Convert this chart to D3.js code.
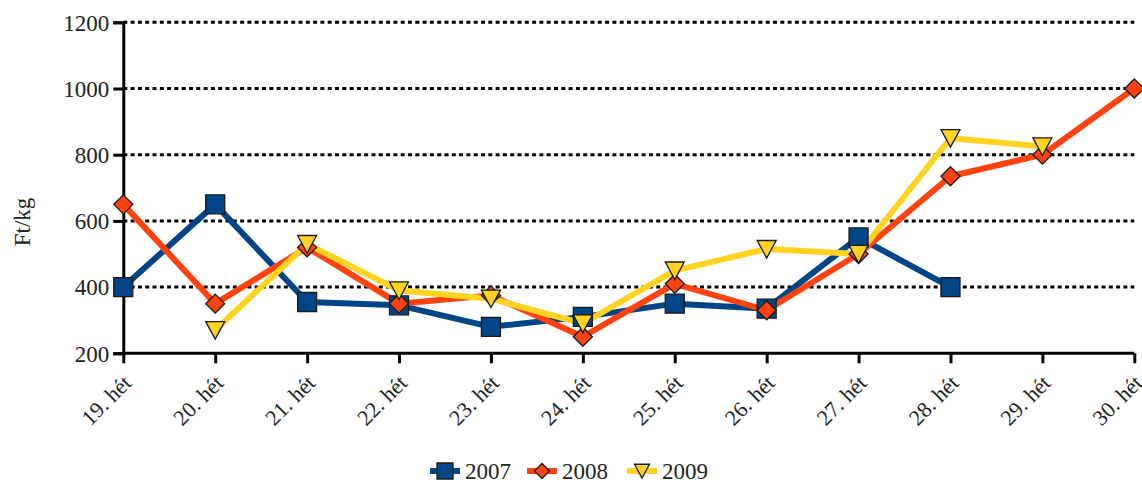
<!DOCTYPE html>
<html><head><meta charset="utf-8">
<script src="https://cdn.jsdelivr.net/npm/d3@7"></script>
<style>body{margin:0;background:#fff}svg{display:block}</style>
</head><body><svg id="c" width="1142" height="482"></svg>
<script>
const categories = ["19. hét","20. hét","21. hét","22. hét","23. hét","24. hét","25. hét","26. hét","27. hét","28. hét","29. hét","30. hét"];
const s2007 = [400,650,355,345,280,310,350,335,550,400,null,null];
const s2008 = [650,350,520,350,375,250,410,330,500,735,800,1000];
const s2009 = [null,270,530,390,365,290,450,515,500,850,825,null];
const yTicks = [200,400,600,800,1000,1200];
const seriesNames = ["2007","2008","2009"];
const colors = ["#004586","#ff420e","#ffd320"];

const FONT = "'Liberation Serif','Times New Roman',serif";
const svg = d3.select("#c");
const L=123.3, R=1134.3, T=22.3, B=353.3;
const x = d3.scalePoint().domain(categories).range([L,R]);
const y = d3.scaleLinear().domain([200,1200]).range([B,T]);

// gridlines
svg.append("g").selectAll("line").data(yTicks.filter(d=>d>200)).join("line")
  .attr("x1",L).attr("x2",R).attr("y1",d=>y(d)).attr("y2",d=>y(d))
  .attr("stroke","#000").attr("stroke-width",3).attr("stroke-dasharray","4,3.3");

// y axis
const ya = svg.append("g").attr("transform",`translate(${L},0)`)
  .call(d3.axisLeft(y).tickValues(yTicks).tickSize(10).tickPadding(4).tickFormat(d3.format("d")));
ya.attr("font-family",null);
ya.select(".domain").attr("stroke","#000").attr("stroke-width",3);
ya.selectAll(".tick line").attr("stroke","#000").attr("stroke-width",3);
ya.selectAll("text").style("font-family",FONT).style("font-size","23px").attr("fill","#222").attr("dy","0.34em");

// x axis
const xa = svg.append("g").attr("transform",`translate(0,${B})`)
  .call(d3.axisBottom(x).tickSize(10).tickPadding(6));
xa.attr("font-family",null);
xa.select(".domain").attr("stroke","#000").attr("stroke-width",3).attr("d",`M${L},0H${R}`);
xa.selectAll(".tick line").attr("stroke","#000").attr("stroke-width",3);
xa.selectAll("text").style("font-family",FONT).style("font-size","22px").attr("fill","#222")
  .attr("text-anchor","end").attr("dy","0").attr("y",0)
  .attr("transform","translate(9,31) rotate(-45)");

// y title
svg.append("text").attr("transform","translate(30,222) rotate(-90)")
  .attr("text-anchor","middle").style("font-family",FONT).style("font-size","23px").attr("fill","#222").text("Ft/kg");

function markerPath(i, s){
  if(i===0) return `M${-s},${-s}H${s}V${s}H${-s}Z`;
  if(i===1) return `M0,${-s}L${s},0L0,${s}L${-s},0Z`;
  return `M${-s},${-s*0.9}H${s}L0,${s*0.95}Z`;
}
const data = [s2007,s2008,s2009];
data.forEach((vals,i)=>{
  const pts = categories.map((c,j)=>({c,v:vals[j]}));
  const line = d3.line().defined(d=>d.v!=null).x(d=>x(d.c)).y(d=>y(d.v));
  svg.append("path").datum(pts).attr("d",line).attr("fill","none")
    .attr("stroke",colors[i]).attr("stroke-width",6).attr("stroke-linejoin","round");
});
const msize = [9.5, 9.5, 9.5];
data.forEach((vals,i)=>{
  const pts = categories.map((c,j)=>({c,v:vals[j]})).filter(d=>d.v!=null);
  svg.append("g").selectAll("path").data(pts).join("path")
    .attr("transform",d=>`translate(${x(d.c)},${y(d.v)})`)
    .attr("d",markerPath(i,msize[i]))
    .attr("fill",colors[i]).attr("stroke","#1a1a1a").attr("stroke-width",1.3);
});

// legend
const legX = [430, 527, 627];
seriesNames.forEach((n,i)=>{
  const g = svg.append("g").attr("transform",`translate(${legX[i]},471)`);
  g.append("line").attr("x1",0).attr("x2",30).attr("stroke",colors[i]).attr("stroke-width",6);
  g.append("path").attr("transform","translate(15,0)").attr("d",markerPath(i, i===0?8:7.5))
    .attr("fill",colors[i]).attr("stroke","#1a1a1a").attr("stroke-width",1.3);
  g.append("text").attr("x",35).attr("dy","0.35em").style("font-family",FONT).style("font-size","23px").attr("fill","#222").text(n);
});
</script></body></html>
